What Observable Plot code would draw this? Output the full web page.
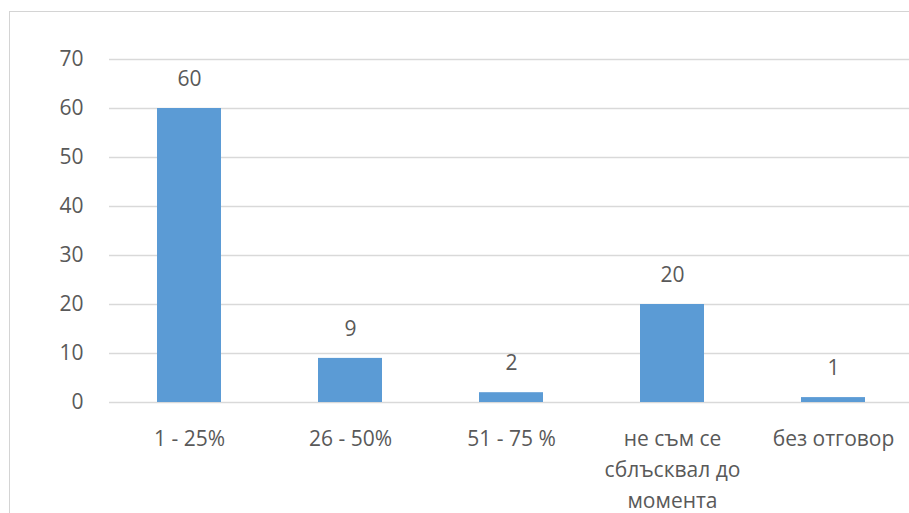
<!DOCTYPE html>
<html>
<head>
<meta charset="utf-8">
<script src="https://cdn.jsdelivr.net/npm/d3@7"></script>
<script src="https://cdn.jsdelivr.net/npm/@observablehq/plot@0.6"></script>
<style>
  html, body { margin: 0; padding: 0; background: #fff; overflow: hidden; width: 909px; height: 513px; }
  #chart { position: absolute; left: 0; top: 0; }
  #frame { position: absolute; left: 9px; top: 11px; width: 960px; height: 560px; border: 1px solid #d4d4d4; pointer-events: none; }
</style>
</head>
<body>
<div id="chart"></div>
<div id="frame"></div>
<script>
const categories = ["1 - 25%", "26 - 50%", "51 - 75 %", "не съм се\nсблъсквал до\nмомента", "без отговор"];
const values = [60, 9, 2, 20, 1];
const yTicks = [0, 10, 20, 30, 40, 50, 60, 70];

const data = categories.map((c, i) => ({category: c, value: values[i]}));

const textColor = "#595959";
const fontSize = 21;

const chart = Plot.plot({
  width: 920,
  height: 513,
  marginLeft: 109,
  marginRight: 6,
  marginTop: 59,
  marginBottom: 111,
  style: {fontFamily: "'Open Sans', sans-serif", background: "transparent", maxWidth: "none", overflow: "visible"},
  x: {domain: categories, paddingInner: 0.6, paddingOuter: 0.3, label: null},
  y: {domain: [0, 70], label: null},
  marks: [
    Plot.ruleY(yTicks, {stroke: "#d9d9d9", strokeWidth: 1.5}),
    Plot.barY(data, {x: "category", y: "value", fill: "#5b9bd5"}),
    Plot.text(data, {x: "category", y: "value", text: d => String(d.value), dy: -29, fontSize, fill: textColor}),
    Plot.axisY({ticks: yTicks, tickSize: 0, tickPadding: 26, fontSize, fill: textColor, label: null}),
    Plot.axisX({tickSize: 0, tickPadding: 21, fontSize, fill: textColor, lineHeight: 1.48, label: null})
  ]
});
document.getElementById("chart").appendChild(chart);
</script>
</body>
</html>
